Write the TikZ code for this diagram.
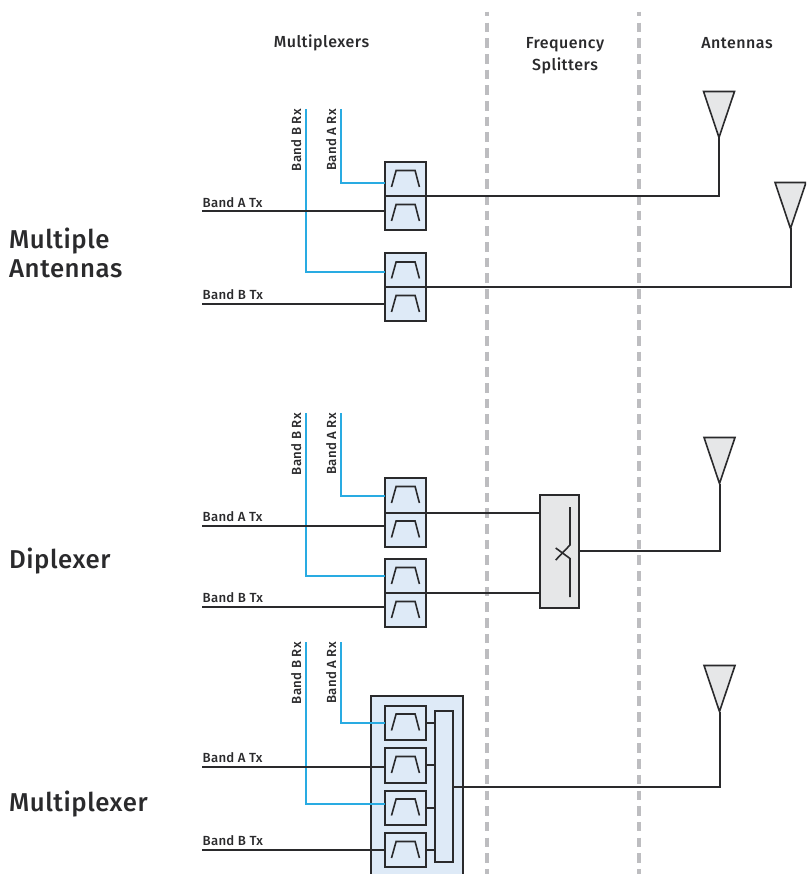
\documentclass[tikz,border=0pt]{standalone}
\usepackage{fontspec}
\setmainfont{Fira Sans Medium}
\definecolor{ink}{HTML}{2A2A2C}
\definecolor{rxblue}{HTML}{29ABE2}
\definecolor{fblue}{HTML}{DEEAF7}
\definecolor{fgray}{HTML}{E6E7E8}
\definecolor{divgray}{HTML}{BDBDC0}
\tikzset{
  filt/.style={draw=ink,line width=2,fill=fblue,rectangle,anchor=north west,inner sep=0,minimum width=40.5,outer sep=0},
  bigbox/.style={draw=ink,line width=2,fill=fblue,rectangle,anchor=north west,inner sep=0,outer sep=0},
  split/.style={draw=ink,line width=2,fill=fgray,rectangle,anchor=north west,inner sep=0,outer sep=0,minimum width=39,minimum height=113.5},
  tx/.style={draw=ink,line width=2},
  rx/.style={draw=rxblue,line width=2},
  ant/.style={draw=ink,line width=1.6,fill=fgray,line join=miter},
  icon/.style={draw=ink,line width=1.6},
  divider/.style={draw=divgray,line width=4,dash pattern=on 9.5 off 6.17,dash phase=4.7},
  head/.style={text=ink,font=\fontsize{16}{22}\selectfont\addfontfeature{LetterSpace=3},align=center,inner sep=0},
  side/.style={text=ink,font=\fontsize{25.8}{29}\selectfont\addfontfeature{LetterSpace=2},align=left,anchor=west,inner sep=0},
  lab/.style={text=ink,font=\fontsize{13.2}{14}\selectfont\addfontfeature{LetterSpace=2},inner sep=0},
}
% name, x, y, height
\newcommand{\filtbox}[4]{%
  \node[filt,minimum height=#4] (#1) at (#2,#3) {};
  \draw[icon] ($(#1.north west)+(6.5,25)$) -- ++(4.6,-16.5) -- ++(19,0) -- ++(4.3,16.5);
}
% name, tip x, tip y
\newcommand{\antenna}[3]{%
  \coordinate (#1) at (#2,#3);
  \draw[ant] (#1) -- ++(-15.5,-46) -- ++(31,0) -- cycle;
}
\usetikzlibrary{calc}
\begin{document}
\begin{tikzpicture}[x=1pt,y=-1pt]
\useasboundingbox (0,0) rectangle (806,874);
\clip (0,0) rectangle (806,874);
\coordinate (d1a) at (486.8,11.7); \coordinate (d1b) at (486.8,874);
\coordinate (d2a) at (639,11.7); \coordinate (d2b) at (639,874);
\draw[divider] (d1a) -- (d1b);
\draw[divider] (d2a) -- (d2b);

\node[head] (hm) at (321.5,43) {Multiplexers};
\node[head] (hf) at (565,56) {Frequency\\Splitters};
\node[head] (ha) at (737,43) {Antennas};

\node[side] (s1) at (9,252.5) {Multiple\\Antennas};
\node[side] (s2) at (9,561) {Diplexer};
\node[side] (s3) at (9,804) {Multiplexer};

% --- Multiple antennas
\coordinate (a1rxb) at (306,109); \coordinate (a1rxa) at (341,109);
\coordinate (a1txa) at (202,211.5); \coordinate (a1txb) at (202,303.5);
\filtbox{a1}{385}{162}{34}
\filtbox{a2}{385}{196}{34}
\filtbox{a3}{385}{253.5}{33.5}
\filtbox{a4}{385}{287}{33.5}
\draw[rx] (a1rxa) |- ($(a1.west)+(0,4)$);
\draw[rx] (a1rxb) |- ($(a3.west)+(0,2)$);
\draw[tx] (a1txa) -- (a1txa -| a2.west);
\draw[tx] (a1txb) -- (a1txb -| a4.west);
\antenna{an1}{719}{137.5}
\antenna{an2}{790.5}{228.5}
\draw[tx] (a1.south east) -| (an1);
\draw[tx] (a3.south east) -| (an2);
\node[lab,anchor=south west] (l1) at (202.5,208) {Band A Tx};
\node[lab,anchor=south west] (l2) at (202.5,299.5) {Band B Tx};
\node[lab,rotate=90,anchor=south east] (l3) at (301.5,109) {Band B Rx};
\node[lab,rotate=90,anchor=south east] (l4) at (336.5,109) {Band A Rx};

% --- Diplexer
\coordinate (b1rxb) at (306,413); \coordinate (b1rxa) at (341,413);
\coordinate (b1txa) at (202,525.5); \coordinate (b1txb) at (202,606.5);
\filtbox{b1}{385}{478}{34.5}
\filtbox{b2}{385}{512.5}{34}
\filtbox{b3}{385}{559}{34}
\filtbox{b4}{385}{593}{33.5}
\draw[rx] (b1rxa) |- ($(b1.west)+(0,1)$);
\draw[rx] (b1rxb) |- (b3.west);
\draw[tx] (b1txa) -- (b1txa -| b2.west);
\draw[tx] (b1txb) -- (b1txb -| b4.west);
\node[split] (sp) at (540,494.7) {};
\draw[tx] (b1.south east) -- (b1.south east -| sp.west);
\draw[tx] (b3.south east) -- (b3.south east -| sp.west);
\draw[icon] (570,507) -- (570,545) -- (555.7,560);
\draw[icon] (570,597) -- (570,558.5) -- (555.7,548);
\antenna{an3}{719.5}{483.5}
\draw[tx] (sp.east) -| (an3);
\node[lab,anchor=south west] (l5) at (202.5,521.5) {Band A Tx};
\node[lab,anchor=south west] (l6) at (202.5,602.5) {Band B Tx};
\node[lab,rotate=90,anchor=south east] (l7) at (301.5,413) {Band B Rx};
\node[lab,rotate=90,anchor=south east] (l8) at (336.5,413) {Band A Rx};

% --- Multiplexer
\coordinate (c1rxb) at (306,642); \coordinate (c1rxa) at (341,642);
\coordinate (c1txa) at (202,767); \coordinate (c1txb) at (202,850);
\node[bigbox,minimum width=91.5,minimum height=190] (big) at (371,696) {};
\filtbox{c1}{385}{705.5}{34.5}
\filtbox{c2}{385}{748}{34.5}
\filtbox{c3}{385}{790.5}{34}
\filtbox{c4}{385}{833}{34}
\node[bigbox,minimum width=18,minimum height=151] (bar) at (435,711) {};
\draw[rx] (c1rxa) |- (c1.west);
\draw[rx] (c1rxb) |- ($(c3.west)+(0,-3.5)$);
\draw[tx] (c1txa) -- (c1txa -| c2.west);
\draw[tx] (c1txb) -- (c1txb -| c4.west);
\draw[tx] (c1.east) -- (c1.east -| bar.west);
\draw[tx] (c2.east) -- (c2.east -| bar.west);
\draw[tx] (c3.east) -- (c3.east -| bar.west);
\draw[tx] (c4.east) -- (c4.east -| bar.west);
\antenna{an4}{719.5}{711.5}
\draw[tx] (bar.east) -| (an4);
\node[lab,anchor=south west] (l9) at (202.5,763) {Band A Tx};
\node[lab,anchor=south west] (l10) at (202.5,846) {Band B Tx};
\node[lab,rotate=90,anchor=south east] (l11) at (301.5,642) {Band B Rx};
\node[lab,rotate=90,anchor=south east] (l12) at (336.5,642) {Band A Rx};
\end{tikzpicture}
\end{document}
